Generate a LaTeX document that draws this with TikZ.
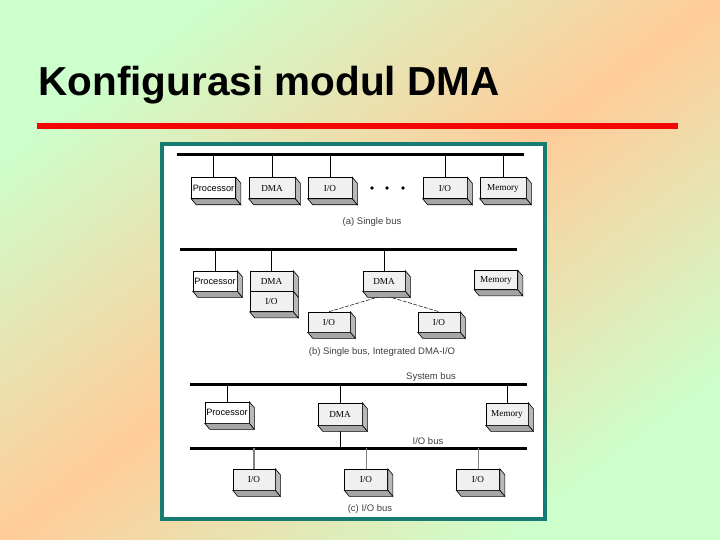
\documentclass[tikz,border=0pt]{standalone}
\usepackage{fontspec}
\setmainfont{Liberation Serif}
\setsansfont{Liberation Sans}
\usetikzlibrary{calc}
\definecolor{bgGreen}{RGB}{204,255,204}
\definecolor{bgOrange}{RGB}{255,204,153}
\definecolor{frameTeal}{RGB}{22,124,114}
\definecolor{titleRed}{RGB}{242,6,6}
\newcommand{\boxfont}{\fontsize{9.2}{10}\selectfont}
\newcommand{\capfont}{\sffamily\fontsize{9.5}{10}\selectfont}

\tikzset{
  modul/.style={draw=black, fill=gray!12, line width=0.6pt,
    minimum width=44pt, minimum height=21pt, inner sep=0pt, font=\boxfont},
  cpu/.style={modul, fill=white, font=\sffamily\boxfont},
  bus/.style={line width=3pt},
  stem/.style={line width=0.6pt},
  caption/.style={font=\capfont, text=black!75, inner sep=0pt},
  sisi/.style={fill=gray!55, draw=black, line width=0.6pt},
  alas/.style={fill=gray!70, draw=black, line width=0.6pt},
}

\begin{document}
\begin{tikzpicture}[x=1pt, y=-1pt, thick]
  \useasboundingbox (0,0) rectangle (720,540);
  % Slide background and title
  \shade[top color=bgGreen, bottom color=bgGreen, middle color=bgOrange,
         shading angle=37] (0,0) rectangle (720,540);
  \node[font=\sffamily\bfseries\fontsize{40.5}{44}\selectfont,
        anchor=base west, inner sep=0pt] (judul) at (38,96)
        {Konfigurasi modul DMA};
  \draw[titleRed, line width=6pt] (37,126) -- (678,126);

  % Figure frame
  \draw[frameTeal, line width=4pt, fill=white] (162,144) rectangle (545,519);

  % (a) Single bus
  \coordinate (busAw) at (177,155);
  \coordinate (busAe) at (524,155);
  \draw[bus] (busAw) -- (busAe);
  \node[cpu]   (aPro) at (213.5,188) {Processor};
  \node[modul, minimum width=46pt] (aDMA) at (272,188) {DMA};
  \node[modul] (aIOa) at (330,188) {I/O};
  \node[modul] (aIOb) at (445,188) {I/O};
  \node[modul, minimum width=46pt] (aMem) at (503,188) {Memory};
  \foreach \m in {aPro,aDMA,aIOa,aIOb,aMem}
    \draw[stem] (\m.north) -- (\m.north |- busAw);
  \fill (372,188) circle[radius=1.8pt] (387,188) circle[radius=1.8pt]
        (403,188) circle[radius=1.8pt];
  \node[caption] (capA) at (372,222) {(a) Single bus};

  % (b) Single bus, integrated DMA-I/O
  \coordinate (busBw) at (180,249);
  \coordinate (busBe) at (517,249);
  \draw[bus] (busBw) -- (busBe);
  \node[cpu, minimum height=20pt] (bPro) at (215,281) {Processor};
  \node[modul, minimum width=43pt, minimum height=20pt] (bDMA) at (271.5,281) {DMA};
  \node[modul, minimum width=43pt, minimum height=20pt, anchor=north]
        (bIO) at (bDMA.south) {I/O};
  \node[modul, minimum width=42pt, minimum height=20pt] (bDMAb) at (384,281) {DMA};
  \node[modul, minimum width=43pt, minimum height=19pt] (bMem) at (496,280) {Memory};
  \node[modul, minimum width=42pt, minimum height=20pt] (bIOa) at (329,322) {I/O};
  \node[modul, minimum width=42pt, minimum height=20pt] (bIOb) at (439,322) {I/O};
  \foreach \m in {bPro,bDMA,bDMAb}
    \draw[stem] (\m.north) -- (\m.north |- busBw);
  \draw[line width=0.5pt, dash pattern=on 4pt off 1.5pt]
    (bIOa.north) -- ([shift={(0,4)}]bDMAb.south) -- (bIOb.north);
  \node[caption] (capB) at (382,352) {(b) Single bus, Integrated DMA-I/O};

  % (c) Separate I/O bus
  \coordinate (sysW) at (190,384);
  \coordinate (sysE) at (527,384);
  \coordinate (ioW) at (190,448);
  \coordinate (ioE) at (527,448);
  \draw[bus] (sysW) -- (sysE);
  \draw[bus] (ioW) -- (ioE);
  \node[caption] (capSys) at (431,377) {System bus};
  \node[caption] (capIO) at (428,441) {I/O bus};
  \node[cpu]   (cPro) at (227,412.5) {Processor};
  \node[modul, minimum height=22pt] (cDMA) at (340,414) {DMA};
  \node[modul, minimum width=42pt, minimum height=22pt] (cMem) at (507,414) {Memory};
  \foreach \m in {cPro,cDMA,cMem}
    \draw[stem] (\m.north) -- (\m.north |- sysW);
  \draw[stem] (cDMA.south) -- (cDMA.south |- ioW);
  \node[modul, minimum width=42pt] (cIOa) at (254,479.5) {I/O};
  \node[modul, minimum width=43pt] (cIOb) at (366,479.5) {I/O};
  \node[modul, minimum width=43pt] (cIOc) at (478,479.5) {I/O};
  \draw[gray, line width=2.5pt] (cIOa.north) -- (cIOa.north |- ioW);
  \foreach \m in {cIOb,cIOc}
    \draw[gray, stem] (\m.north) -- (\m.north |- ioW);
  \node[caption] (capC) at (370,509) {(c) I/O bus};

  % Box depth: right sides, then bottoms
  \foreach \m in {aPro,aDMA,aIOa,aIOb,aMem,bPro,bDMA,bIO,bDMAb,bMem,
                  bIOa,bIOb,cPro,cDMA,cMem,cIOa,cIOb,cIOc}
    \filldraw[sisi] (\m.north east) -- ([shift={(5,6)}]\m.north east)
      -- ([shift={(5,6)}]\m.south east) -- (\m.south east) -- cycle;
  \foreach \m in {aPro,aDMA,aIOa,aIOb,aMem,bPro,bIO,bDMAb,bMem,
                  bIOa,bIOb,cPro,cDMA,cMem,cIOa,cIOb,cIOc}
    \filldraw[alas] (\m.south west) -- ([shift={(5,6)}]\m.south west)
      -- ([shift={(5,6)}]\m.south east) -- (\m.south east) -- cycle;
\end{tikzpicture}
\end{document}
